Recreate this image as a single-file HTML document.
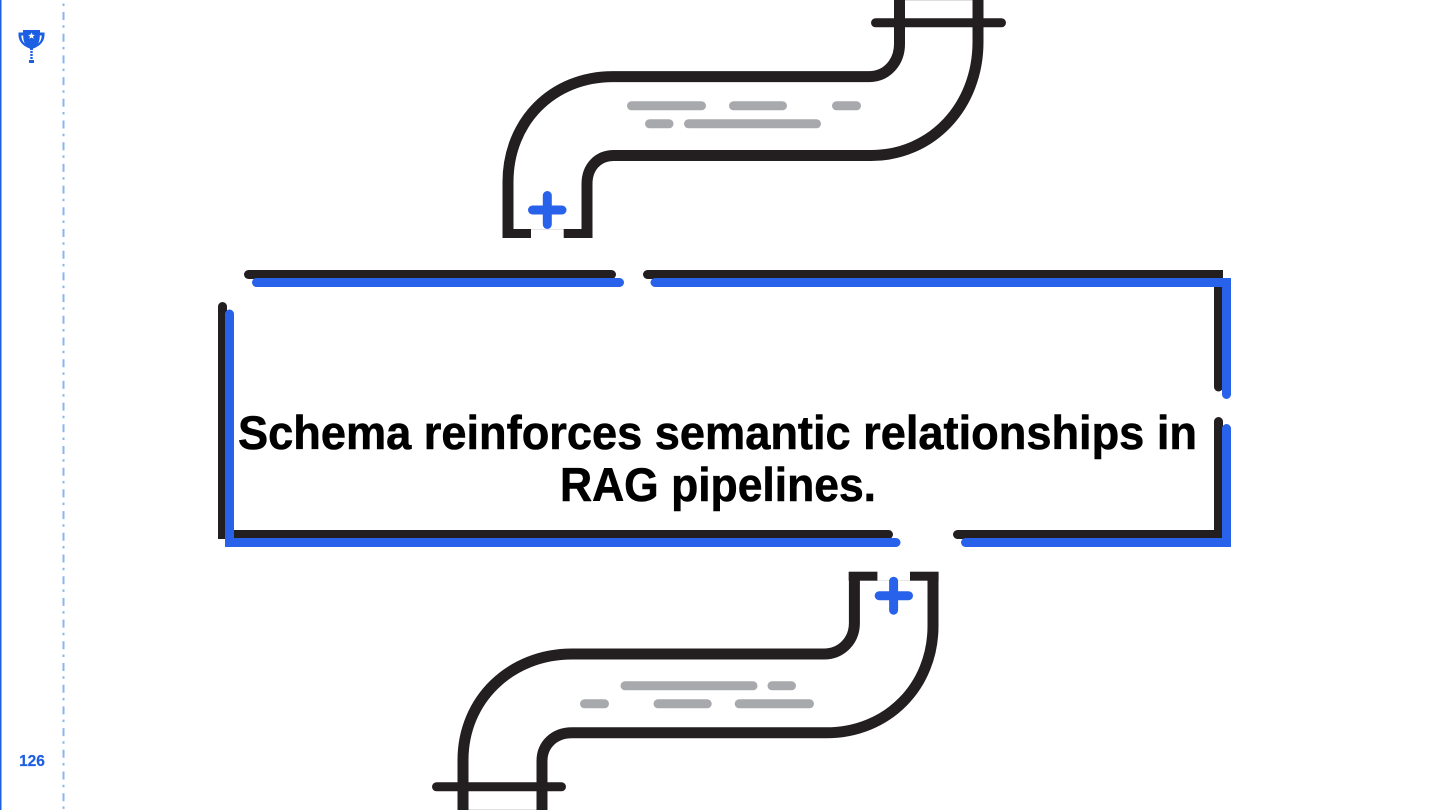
<!DOCTYPE html>
<html>
<head>
<meta charset="utf-8">
<style>
html,body{margin:0;padding:0;background:#fff;width:1440px;height:810px;overflow:hidden}
svg{display:block}
</style>
</head>
<body>
<svg width="1440" height="810" viewBox="0 0 1440 810" xmlns="http://www.w3.org/2000/svg">
<rect x="0" y="0" width="1.500" height="810" fill="#1f5fe0"/>
<line x1="63.500" y1="3.500" x2="63.500" y2="810" stroke="#8fb3f0" stroke-width="2" stroke-dasharray="2.500 6 8 5.200"/>

<!-- trophy -->
<path d="M23 30H40V32.500H44.500C45 39 42.500 44 36.500 47C35 48 34 48.300 33 48.500V50H30V48.500C29 48.300 28 48 26.500 47C20.500 44 18 39 18.500 32.500H23Z" fill="#1d5fe3"/>
<path d="M21.300 35.500C21.500 39 22.500 41.500 24.800 43.500C23.500 41 23.300 38.500 23.200 35.500Z" fill="#fff"/>
<path d="M41.700 35.500C41.500 39 40.500 41.500 38.200 43.500C39.500 41 39.700 38.500 39.800 35.500Z" fill="#fff"/>
<g fill="#1d5fe3">
<rect x="30.300" y="51" width="2.400" height="2"/>
<rect x="30.300" y="54" width="2.400" height="2"/>
<rect x="30.300" y="57" width="2.400" height="2"/>
<rect x="29" y="60" width="5" height="3"/>
</g>
<polygon points="31.500,32.500 32.500,34.800 34.800,35 33,36.500 33.600,38.800 31.500,37.500 29.400,38.800 30,36.500 28.200,35 30.500,34.800" fill="#fff"/>
<text x="32" y="766" text-anchor="middle" font-family="'Liberation Sans',sans-serif" font-weight="700" font-size="15.500" fill="#1d5fe3" stroke="#1d5fe3" stroke-width="0.200">126</text>

<!-- top pipe -->
<line x1="905" y1="0.300" x2="973" y2="0.300" stroke="#d4d4d6" stroke-width="0.800"/>
<line x1="531" y1="229.300" x2="564" y2="229.300" stroke="#d4d4d6" stroke-width="0.600"/>
<g fill="none" stroke="#231f20" stroke-width="11">
<path d="M508 238V182C508 122 552 76.600 613 76.600H869C887 76.600 899.500 62 899.500 44V0"/>
<path d="M587 238V184C587 167 598 155.500 614 155.500H871C932 155.500 978 106 978 42V0"/>
</g>
<rect x="502.500" y="229" width="28.500" height="9" fill="#231f20"/>
<rect x="563.700" y="229" width="28.700" height="9" fill="#231f20"/>
<line x1="875.500" y1="22.800" x2="1001.500" y2="22.800" stroke="#231f20" stroke-width="9" stroke-linecap="round"/>
<g stroke="#a7a9ac" stroke-width="9" stroke-linecap="round">
<line x1="631.500" y1="105.800" x2="701.500" y2="105.800"/>
<line x1="733.500" y1="105.800" x2="782.500" y2="105.800"/>
<line x1="836.500" y1="105.800" x2="856.500" y2="105.800"/>
<line x1="649.500" y1="123.800" x2="669" y2="123.800"/>
<line x1="688.500" y1="123.800" x2="816.500" y2="123.800"/>
</g>
<g stroke="#2962ea" stroke-width="9" stroke-linecap="round">
<line x1="532.500" y1="210" x2="562" y2="210"/>
<line x1="547.300" y1="195.500" x2="547.300" y2="224.500"/>
</g>

<!-- bottom pipe -->
<line x1="468" y1="809.500" x2="537" y2="809.500" stroke="#d4d4d6" stroke-width="0.800"/>
<line x1="877" y1="580.500" x2="910" y2="580.500" stroke="#d4d4d6" stroke-width="0.600"/>
<g fill="none" stroke="#231f20" stroke-width="11">
<path d="M854.400 572V623C854.400 641 841 654 824 654H572C510 654 463 700 463 760V810"/>
<path d="M933 572V626C933 686 888 732.800 826 732.800H572C554 732.800 542 745 542 761V810"/>
</g>
<rect x="848.700" y="571.700" width="28.700" height="9" fill="#231f20"/>
<rect x="910" y="571.700" width="28.600" height="9" fill="#231f20"/>
<line x1="436.500" y1="786.800" x2="561.500" y2="786.800" stroke="#231f20" stroke-width="9" stroke-linecap="round"/>
<g stroke="#a7a9ac" stroke-width="9" stroke-linecap="round">
<line x1="625" y1="685.800" x2="753" y2="685.800"/>
<line x1="772" y1="685.800" x2="791.500" y2="685.800"/>
<line x1="584.500" y1="703.800" x2="604.500" y2="703.800"/>
<line x1="658" y1="703.800" x2="707.200" y2="703.800"/>
<line x1="739.200" y1="703.800" x2="809.500" y2="703.800"/>
</g>
<g stroke="#2962ea" stroke-width="9" stroke-linecap="round">
<line x1="879.200" y1="595.700" x2="908.500" y2="595.700"/>
<line x1="893.600" y1="581.200" x2="893.600" y2="610.200"/>
</g>

<!-- black frame -->
<g fill="none" stroke="#231f20" stroke-width="9" stroke-linecap="round">
<line x1="248.500" y1="274.500" x2="611.500" y2="274.500"/>
<path d="M647.500 274.500H1218.500V387" stroke-linejoin="miter"/>
<path d="M1218.500 421.500V534.500H957.500" stroke-linejoin="miter"/>
<path d="M888.500 534.500H222.500V306.500" stroke-linejoin="miter"/>
</g>
<rect x="1214" y="270" width="9" height="9" fill="#231f20"/>
<rect x="1214" y="530" width="9" height="9" fill="#231f20"/>
<rect x="218" y="530" width="9" height="9" fill="#231f20"/>

<!-- blue frame -->
<g fill="none" stroke="#2962ea" stroke-width="9" stroke-linecap="round">
<line x1="256.500" y1="282.500" x2="619.500" y2="282.500"/>
<path d="M655 282.500H1226.500V394.500"/>
<path d="M1226.500 428.500V542.500H965.500"/>
<path d="M896 542.500H229.500V314"/>
</g>
<rect x="1222" y="278" width="9" height="9" fill="#2962ea"/>
<rect x="1222" y="538" width="9" height="9" fill="#2962ea"/>
<rect x="225" y="538" width="9" height="9" fill="#2962ea"/>

<!-- title -->
<g font-family="'Liberation Sans',sans-serif" font-weight="700" font-size="47" fill="#000" stroke="#000" stroke-width="0.600">
<text x="238" y="449" textLength="959" lengthAdjust="spacingAndGlyphs">Schema reinforces semantic relationships in</text>
<text x="560" y="501" textLength="316" lengthAdjust="spacingAndGlyphs">RAG pipelines.</text>
</g>
</svg>
</body>
</html>
